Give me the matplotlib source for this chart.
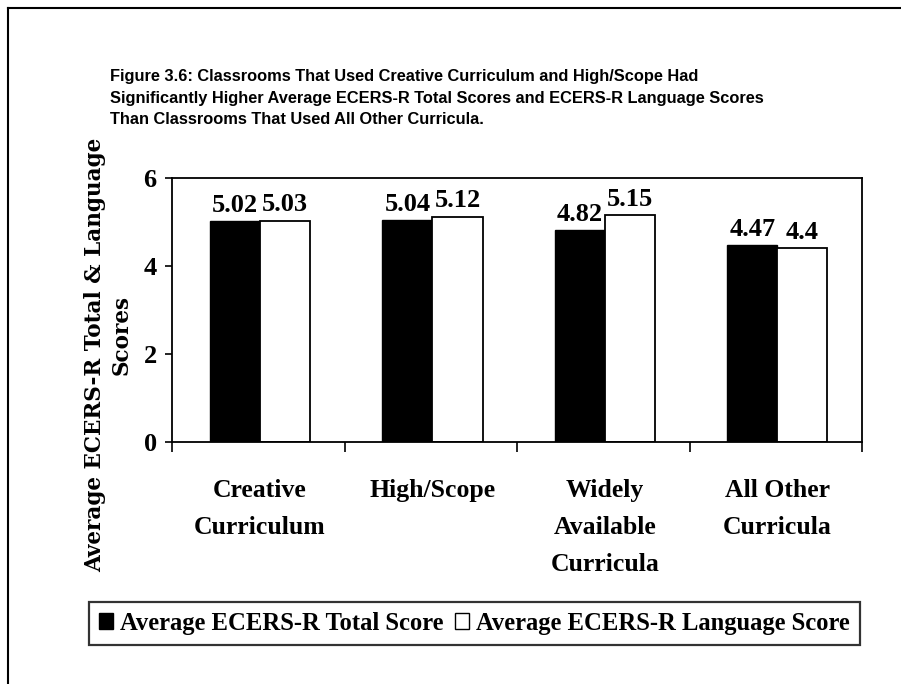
import matplotlib
matplotlib.use("Agg")
import matplotlib.pyplot as plt
import numpy as np
from matplotlib.lines import Line2D
from matplotlib.patches import Patch

categories = ["Creative\nCurriculum", "High/Scope", "Widely\nAvailable\nCurricula", "All Other\nCurricula"]
total_scores = [5.02, 5.04, 4.82, 4.47]
language_scores = [5.03, 5.12, 5.15, 4.4]
value_labels_total = ["5.02", "5.04", "4.82", "4.47"]
value_labels_lang = ["5.03", "5.12", "5.15", "4.4"]
series_names = ["Average ECERS-R Total Score", "Average ECERS-R Language Score"]
yticks = [0, 2, 4, 6]
title = ("Figure 3.6: Classrooms That Used Creative Curriculum and High/Scope Had\n"
         "Significantly Higher Average ECERS-R Total Scores and ECERS-R Language Scores\n"
         "Than Classrooms That Used All Other Curricula.")
ylabel_line1 = "Average ECERS-R Total & Language"
ylabel_line2 = "Scores"

serif = ["Liberation Serif", "DejaVu Serif"]
sans = ["Liberation Sans", "DejaVu Sans"]

W, H = 901, 684
fig = plt.figure(figsize=(W/100, H/100), dpi=100)
ax = fig.add_axes([172/W, 1-442/H, (862-172)/W, (442-178)/H])

x = np.arange(len(categories))
w = 0.29
off = 0.01
ax.bar(x - w/2 + off, total_scores, w, color="black", edgecolor="black", linewidth=1)
ax.bar(x + w/2 + off, language_scores, w, color="white", edgecolor="black", linewidth=1.3)

for xi, v, s in zip(x, total_scores, value_labels_total):
    ax.text(xi - w/2 + off, v + 0.1, s, ha="center", va="bottom", fontsize=19,
            family=serif, fontweight="bold")
for xi, v, s in zip(x, language_scores, value_labels_lang):
    ax.text(xi + w/2 + off, v + 0.1, s, ha="center", va="bottom", fontsize=19,
            family=serif, fontweight="bold")

ax.set_xlim(-0.5, len(categories) - 0.5)
ax.set_ylim(0, 6)
ax.set_yticks(yticks)
ax.set_yticklabels([str(t) for t in yticks], fontsize=19, family=serif, fontweight="bold")
ax.set_xticks(np.arange(len(categories) + 1) - 0.5)
ax.set_xticklabels([])
ax.tick_params(axis="x", direction="out", length=7, width=1.2)
ax.tick_params(axis="y", direction="out", length=5, width=1.2, pad=6)
for sp in ax.spines.values():
    sp.set_linewidth(1.3)

for xi, c in zip(x, categories):
    ax.text(xi + off, -0.84, c, ha="center", va="top", fontsize=18.5, family=serif,
            fontweight="bold", linespacing=1.78, transform=ax.transData)

fig.text(110/W, 1-69/H, title, ha="left", va="top", fontsize=11.8, family=sans,
         fontweight="bold", linespacing=1.55)

fig.text(95/W, 1-355/H, ylabel_line1, ha="center", va="center", rotation=90, fontsize=15.5,
         family=["DejaVu Serif"], fontweight="bold")
fig.text(122/W, 1-335/H, ylabel_line2, ha="center", va="center", rotation=90, fontsize=15.5,
         family=["DejaVu Serif"], fontweight="bold")

handles = [Patch(facecolor="black", edgecolor="black"),
           Patch(facecolor="white", edgecolor="black")]
leg = fig.legend(handles, series_names, loc="center", bbox_to_anchor=(474.5/W, 1-623.5/H),
                 ncol=2, frameon=True, fancybox=False, edgecolor="black",
                 prop={"family": serif, "weight": "bold", "size": 17.7},
                 handlelength=0.56, handleheight=0.64, handletextpad=0.28, columnspacing=0.48,
                 borderpad=0.4, borderaxespad=0)
leg.get_frame().set_linewidth(1.6)

fig.add_artist(Line2D([8/W, 8/W], [0, 1-8/H], color="black", lw=1.5, transform=fig.transFigure))
fig.add_artist(Line2D([8/W, 1], [1-8/H, 1-8/H], color="black", lw=1.5, transform=fig.transFigure))

fig.savefig("out.png", dpi=100)
